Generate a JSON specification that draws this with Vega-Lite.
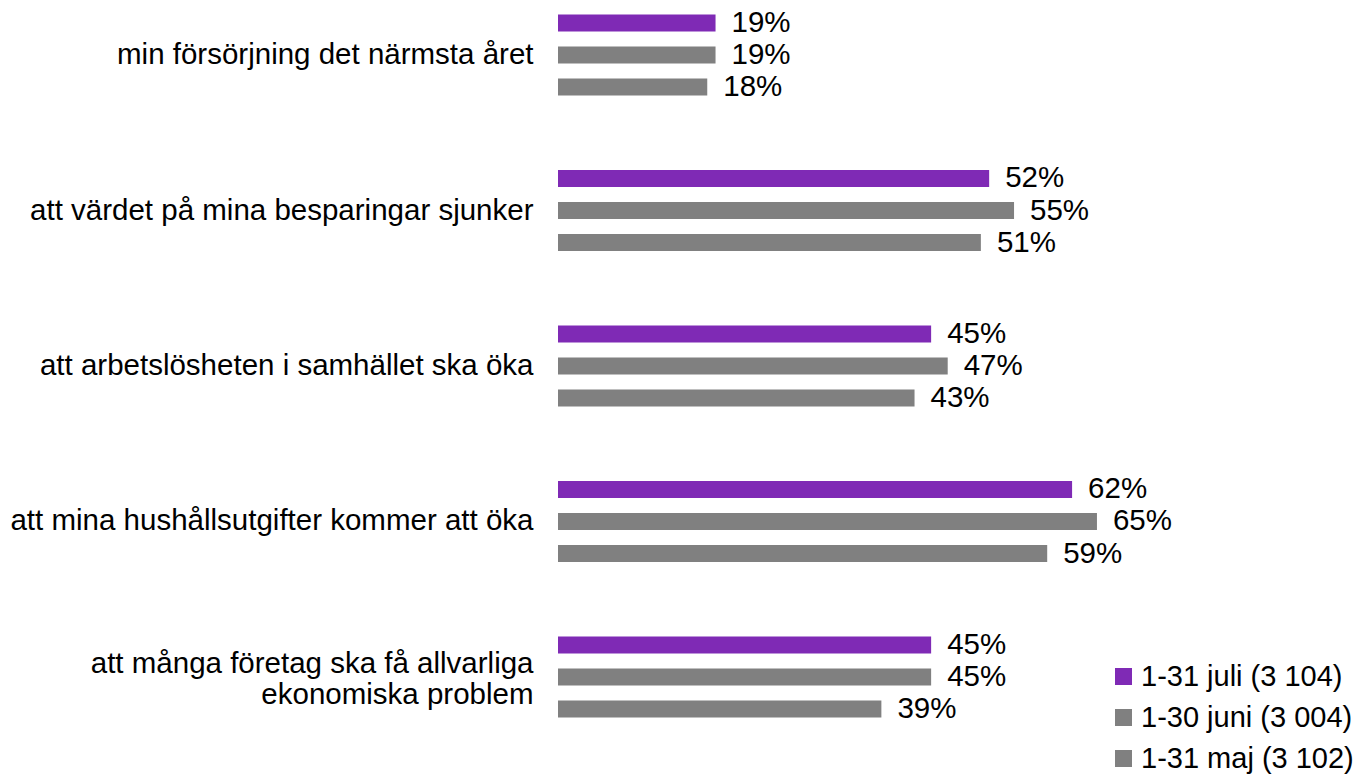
{
  "$schema": "https://vega.github.io/schema/vega-lite/v6.json",
  "width": 796,
  "height": 718,
  "autosize": "none",
  "padding": {"left": 558, "top": 7, "right": 1, "bottom": 51},
  "background": "white",
  "config": {"view": {"stroke": null}, "font": "Liberation Sans"},
  "data": {"values": [
    {"cat": "min försörjning det närmsta året", "period": "1-31 juli (3 104)", "value": 19},
    {"cat": "min försörjning det närmsta året", "period": "1-30 juni (3 004)", "value": 19},
    {"cat": "min försörjning det närmsta året", "period": "1-31 maj (3 102)", "value": 18},
    {"cat": "att värdet på mina besparingar sjunker", "period": "1-31 juli (3 104)", "value": 52},
    {"cat": "att värdet på mina besparingar sjunker", "period": "1-30 juni (3 004)", "value": 55},
    {"cat": "att värdet på mina besparingar sjunker", "period": "1-31 maj (3 102)", "value": 51},
    {"cat": "att arbetslösheten i samhället ska öka", "period": "1-31 juli (3 104)", "value": 45},
    {"cat": "att arbetslösheten i samhället ska öka", "period": "1-30 juni (3 004)", "value": 47},
    {"cat": "att arbetslösheten i samhället ska öka", "period": "1-31 maj (3 102)", "value": 43},
    {"cat": "att mina hushållsutgifter kommer att öka", "period": "1-31 juli (3 104)", "value": 62},
    {"cat": "att mina hushållsutgifter kommer att öka", "period": "1-30 juni (3 004)", "value": 65},
    {"cat": "att mina hushållsutgifter kommer att öka", "period": "1-31 maj (3 102)", "value": 59},
    {"cat": "att många företag ska få allvarliga|ekonomiska problem", "period": "1-31 juli (3 104)", "value": 45},
    {"cat": "att många företag ska få allvarliga|ekonomiska problem", "period": "1-30 juni (3 004)", "value": 45},
    {"cat": "att många företag ska få allvarliga|ekonomiska problem", "period": "1-31 maj (3 102)", "value": 39}
  ]},
  "encoding": {
    "y": {
      "field": "cat", "type": "nominal", "sort": null,
      "scale": {"paddingInner": 0.3826, "paddingOuter": 0},
      "axis": {
        "title": null, "domain": false, "ticks": false, "labelPadding": 25,
        "labelFontSize": 29.5, "labelColor": "#000000", "labelFont": "Liberation Sans",
        "labelLimit": 600, "labelLineHeight": 31,
        "labelOffset": {"condition": {"test": "indexof(datum.value, '|') >= 0", "value": -13}, "value": 0},
        "labelExpr": "split(datum.value, '|')"
      }
    },
    "yOffset": {
      "field": "period", "type": "nominal",
      "sort": ["1-31 juli (3 104)", "1-30 juni (3 004)", "1-31 maj (3 102)"],
      "scale": {"paddingInner": 0.47, "paddingOuter": 0.235}
    },
    "x": {
      "field": "value", "type": "quantitative",
      "scale": {"domain": [0, 96], "nice": false},
      "axis": null
    }
  },
  "layer": [
    {
      "mark": {"type": "bar"},
      "encoding": {
        "color": {
          "field": "period", "type": "nominal",
          "sort": ["1-31 juli (3 104)", "1-30 juni (3 004)", "1-31 maj (3 102)"],
          "scale": {"domain": ["1-31 juli (3 104)", "1-30 juni (3 004)", "1-31 maj (3 102)"], "range": ["#7F2AB5", "#808080", "#808080"]},
          "legend": {
            "title": null, "orient": "none", "legendX": 551, "legendY": 655,
            "symbolType": "square", "symbolSize": 289, "symbolStrokeWidth": 0,
            "labelFontSize": 29, "labelColor": "#000000", "labelFont": "Liberation Sans",
            "rowPadding": 11, "labelOffset": 3, "labelLimit": 400
          }
        }
      }
    },
    {
      "transform": [{"calculate": "datum.value + '%'", "as": "lbl"}],
      "mark": {"type": "text", "align": "left", "baseline": "middle", "dx": 16, "fontSize": 29.5, "color": "#000000", "font": "Liberation Sans"},
      "encoding": {
        "text": {"field": "lbl", "type": "nominal"},
        "detail": {"field": "period"}
      }
    }
  ]
}
